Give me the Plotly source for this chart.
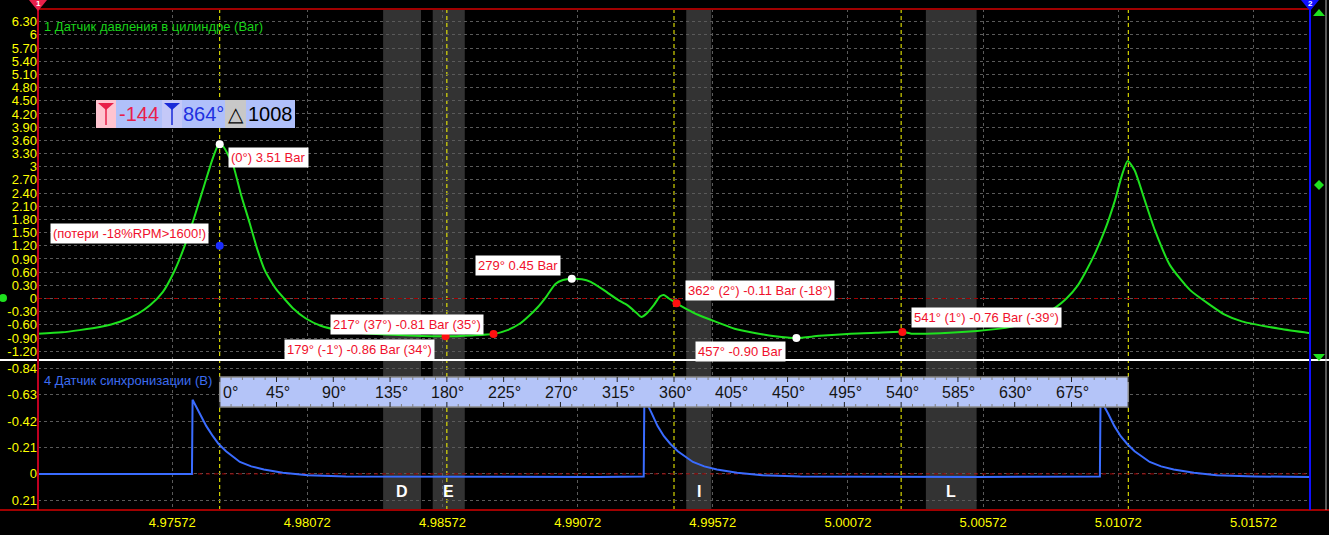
import numpy as np
import plotly.graph_objects as go

# ---------------- data ----------------
T_ZERO = 4.977478        # time (s) at crank angle 0 deg
SEC_PER_DEG = 4.6684e-5  # seconds per crank degree
CURSOR_LEFT_DEG = -144
CURSOR_RIGHT_DEG = 864
CURSOR_DELTA = 1008

pressure_deg = [-144, -125, -111, -95, -79, -65, -55, -45, -36, -28, -20, -12, -6, -2, 0,
                3, 7, 10.5, 17, 23.7, 30, 35.6, 40, 45, 51, 58, 68, 80, 96, 110, 124, 150,
                179, 200, 217, 228, 238, 245, 252, 259, 266, 272, 279, 287, 294, 305, 315,
                323, 330, 334, 338, 344, 349, 352, 356, 362, 370, 379, 395, 408, 425, 440,
                457, 475, 500, 520, 541, 548, 560, 600, 628, 645, 663, 671, 680, 687, 694,
                701.5, 709.5, 715, 719.5, 725, 733, 741, 753, 769, 785, 796, 810, 840, 864]
pressure_bar = [-0.80, -0.77, -0.72, -0.65, -0.53, -0.35, -0.15, 0.15, 0.62, 1.18, 1.86, 2.60,
                3.15, 3.45, 3.51, 3.45, 3.25, 3.05, 2.35, 1.72, 1.10, 0.65, 0.42, 0.20, 0.00,
                -0.22, -0.45, -0.62, -0.73, -0.78, -0.81, -0.84, -0.86, -0.84, -0.81, -0.72,
                -0.57, -0.40, -0.20, 0.05, 0.33, 0.42, 0.45, 0.44, 0.38, 0.18, -0.02, -0.15,
                -0.32, -0.42, -0.35, -0.15, 0.05, 0.08, 0.00, -0.11, -0.24, -0.37, -0.55,
                -0.69, -0.79, -0.86, -0.90, -0.85, -0.80, -0.78, -0.76, -0.80, -0.80, -0.74,
                -0.64, -0.50, -0.19, 0.00, 0.30, 0.65, 1.05, 1.56, 2.24, 2.81, 3.13, 2.92,
                2.24, 1.56, 0.76, 0.19, -0.15, -0.36, -0.52, -0.69, -0.79]

sync_deg = [-144, -100, -60, -22, -21.5, -16, -10.6, -5.4, -1, 5, 10.5, 16, 25, 35, 50, 70,
            100, 200, 300, 336, 336.5, 342, 347, 352, 357, 363, 369, 375, 384, 394, 410, 430,
            460, 600, 697.5, 698, 704, 709, 714, 719, 725, 731, 737, 746, 756, 772, 790, 820,
            864]
sync_volt = [0.0, 0.0, 0.0, 0.0, -0.59, -0.49, -0.38, -0.30, -0.24, -0.18, -0.14, -0.095,
             -0.06, -0.035, -0.01, 0.01, 0.02, 0.025, 0.025, 0.02, -0.60, -0.49, -0.38, -0.30,
             -0.24, -0.18, -0.14, -0.095, -0.06, -0.035, -0.01, 0.01, 0.02, 0.025, 0.02, -0.59,
             -0.48, -0.38, -0.30, -0.24, -0.18, -0.14, -0.095, -0.06, -0.035, -0.01, 0.01,
             0.02, 0.025]

white_pts_deg = [0, 279, 457]
white_pts_bar = [3.51, 0.45, -0.90]
red_pts_deg = [179, 217, 362, 541]
red_pts_bar = [-0.86, -0.81, -0.11, -0.76]
loss_pt_deg = [0]
loss_pt_bar = [1.20]

label_deg = [0, 279, 217, 179, 362, 457, 541, 0]
label_bar = [3.51, 0.45, -0.81, -0.86, -0.11, -0.90, -0.76, 1.20]
label_text = ["(0°) 3.51 Bar", "279° 0.45 Bar", "217° (37°) -0.81 Bar (35°)",
              "179° (-1°) -0.86 Bar (34°)", "362° (2°) -0.11 Bar (-18°)", "457° -0.90 Bar",
              "541° (1°) -0.76 Bar (-39°)", "(потери -18%RPM>1600!)"]

band_names = ["D", "E", "I", "L"]
band_start_deg = [129.5, 168.8, 369.7, 559.6]
band_end_deg = [159.5, 194.2, 389.5, 599.8]

cursor_lines_deg = [0, 180, 360, 540, 720]
scale_labels_deg = [0, 45, 90, 135, 180, 225, 270, 315, 360, 405, 450, 495, 540, 585, 630, 675]
scale_minor_deg = list(range(0, 721, 9))

time_ticks = [4.97572, 4.98072, 4.98572, 4.99072, 4.99572, 5.00072, 5.00572, 5.01072, 5.01572]
pressure_ticks = [-1.2, -0.9, -0.6, -0.3, 0, 0.3, 0.6, 0.9, 1.2, 1.5, 1.8, 2.1, 2.4, 2.7, 3.0,
                  3.3, 3.6, 3.9, 4.2, 4.5, 4.8, 5.1, 5.4, 5.7, 6.0, 6.3]
sync_ticks = [-0.84, -0.63, -0.42, -0.21, 0, 0.21]

# ---------------- geometry ----------------
W, H = 1329, 535
ML, MR, MT, MB = 38, 19, 9, 25
PW, PH = W - ML - MR, H - MT - MB
SPLIT_PX = 360
split = (H - MB - SPLIT_PX) / PH


def t_of(d):
    return T_ZERO + np.asarray(d, dtype=float) * SEC_PER_DEG


def fx(xp):
    return (xp - ML) / PW


def fy(yp):
    return (H - MB - yp) / PH


def fmt(v):
    if abs(v - round(v)) < 1e-9:
        return str(int(round(v)))
    return f"{v:.2f}"


def path_px(pts):
    return "M " + " L ".join(f"{fx(x):.5f},{fy(y):.5f}" for x, y in pts) + " Z"


FONT = "Arial, Liberation Sans, sans-serif"
GREEN = "#1ee11e"
BLUE = "#3a6cff"
RED_TXT = "#f0102c"

fig = go.Figure()

fig.add_trace(go.Scatter(x=t_of(pressure_deg), y=pressure_bar, mode="lines",
                         line=dict(color=GREEN, width=2, shape="spline", smoothing=0.6),
                         xaxis="x", yaxis="y", hoverinfo="skip"))
fig.add_trace(go.Scatter(x=t_of(sync_deg), y=sync_volt, mode="lines",
                         line=dict(color=BLUE, width=2),
                         xaxis="x", yaxis="y2", hoverinfo="skip"))
fig.add_trace(go.Scatter(x=t_of(white_pts_deg), y=white_pts_bar, mode="markers",
                         marker=dict(color="white", size=8), yaxis="y", hoverinfo="skip"))
fig.add_trace(go.Scatter(x=t_of(red_pts_deg), y=red_pts_bar, mode="markers",
                         marker=dict(color="#ff1010", size=8), yaxis="y", hoverinfo="skip"))
fig.add_trace(go.Scatter(x=t_of(loss_pt_deg), y=loss_pt_bar, mode="markers",
                         marker=dict(color="#1a2cff", size=8), yaxis="y", hoverinfo="skip"))

shapes = []
annotations = []


def note(**kw):
    kw.setdefault("showarrow", False)
    kw.setdefault("xanchor", "center")
    kw.setdefault("yanchor", "middle")
    annotations.append(kw)


# grey bands
for n, a, b in zip(band_names, band_start_deg, band_end_deg):
    shapes.append(dict(type="rect", xref="x", yref="paper", x0=t_of(a), x1=t_of(b),
                       y0=0, y1=1, fillcolor="#333333", line=dict(width=0), layer="below"))
    note(xref="x", yref="paper", x=float(t_of((a + b) / 2)), y=fy(491),
         text=f"<b>{n}</b>", font=dict(family=FONT, size=16, color="white"))

# yellow cursor lines
for d in cursor_lines_deg:
    shapes.append(dict(type="line", xref="x", yref="paper", x0=t_of(d), x1=t_of(d),
                       y0=0, y1=1, line=dict(color="#ffff00", width=1, dash="4px,3px"),
                       layer="below"))

# zero lines
x_lo, x_hi = float(t_of(CURSOR_LEFT_DEG)), float(t_of(CURSOR_RIGHT_DEG))
for yr in ["y", "y2"]:
    shapes.append(dict(type="line", xref="x", yref=yr, x0=x_lo, x1=x_hi, y0=0, y1=0,
                       line=dict(color="#a00000", width=1, dash="4px,4px"), layer="between"))

# frame lines
shapes += [
    dict(type="line", xref="paper", yref="paper", x0=fx(0), x1=fx(W), y0=split, y1=split,
         line=dict(color="white", width=2)),
    dict(type="line", xref="paper", yref="paper", x0=fx(0), x1=fx(W), y0=fy(510), y1=fy(510),
         line=dict(color="#a00000", width=2)),
    dict(type="line", xref="paper", yref="paper", x0=0, x1=1, y0=1, y1=1,
         line=dict(color="#a00000", width=2)),
    dict(type="line", xref="paper", yref="paper", x0=0, x1=0, y0=0, y1=1,
         line=dict(color="#c00020", width=2)),
    dict(type="line", xref="paper", yref="paper", x0=1, x1=1, y0=0, y1=fy(0),
         line=dict(color="#1010ff", width=2)),
    dict(type="line", xref="paper", yref="paper", x0=fx(1326), x1=fx(1326), y0=0, y1=fy(0),
         line=dict(color="#b0b0b0", width=1)),
]

# channel markers at top
shapes.append(dict(type="path", xref="paper", yref="paper",
                   path=path_px([(29, 0), (47, 0), (38, 11)]),
                   fillcolor="#e8204a", line=dict(width=0)))
shapes.append(dict(type="path", xref="paper", yref="paper",
                   path=path_px([(1301, 0), (1319, 0), (1310, 11)]),
                   fillcolor="#1010ff", line=dict(width=0)))
note(xref="paper", yref="paper", x=fx(38), y=fy(3.5), text="<b>1</b>",
     font=dict(family=FONT, size=8, color="white"))
note(xref="paper", yref="paper", x=fx(1310), y=fy(3.5), text="<b>2</b>",
     font=dict(family=FONT, size=8, color="white"))
# right strip green markers
shapes.append(dict(type="path", xref="paper", yref="paper",
                   path=path_px([(1313, 16), (1325, 16), (1319, 9)]),
                   fillcolor=GREEN, line=dict(width=0)))
shapes.append(dict(type="path", xref="paper", yref="paper",
                   path=path_px([(1319, 180), (1324, 185), (1319, 190), (1314, 185)]),
                   fillcolor=GREEN, line=dict(width=0)))
shapes.append(dict(type="path", xref="paper", yref="paper",
                   path=path_px([(1313, 354), (1325, 354), (1319, 361)]),
                   fillcolor=GREEN, line=dict(width=0)))
shapes.append(dict(type="circle", xref="paper", yref="paper",
                   x0=fx(-1), x1=fx(7), y0=fy(302), y1=fy(294),
                   fillcolor=GREEN, line=dict(width=0)))

# crank-angle scale bar
bar_top, bar_bot = 377, 407
shapes.append(dict(type="rect", xref="x", yref="paper", x0=t_of(0), x1=t_of(720),
                   y0=fy(bar_bot), y1=fy(bar_top), fillcolor="#b4c4f8",
                   line=dict(color="#8a8a8a", width=1.5), layer="above"))
for d in scale_minor_deg:
    major = d % 45 == 0
    ln = 5 if major else 3
    col = "#202020" if major else "#808080"
    for y0, y1 in [(bar_top, bar_top + ln), (bar_bot - ln, bar_bot)]:
        shapes.append(dict(type="line", xref="x", yref="paper", x0=t_of(d), x1=t_of(d),
                           y0=fy(y0), y1=fy(y1), line=dict(color=col, width=1),
                           layer="above"))
for d in scale_labels_deg:
    note(xref="x", yref="paper", x=float(t_of(d)), y=fy(392),
         xanchor="left" if d == 0 else "center", xshift=1, text=f"{d}°",
         font=dict(family=FONT, size=16, color="#151515"))

# data labels
offsets = [("left", 8, -13), ("right", -11, 13), ("right", -10, 10), ("right", -11, -13),
           ("left", 8, 13), ("right", -10, -13), ("left", 9, 14), ("right", -11, 12)]
for d, v, txt, (anc, dx, dy) in zip(label_deg, label_bar, label_text, offsets):
    note(xref="x", yref="y", x=float(t_of(d)), y=v, text=txt, xanchor=anc,
         xshift=dx, yshift=dy, bgcolor="white", borderpad=2,
         font=dict(family=FONT, size=13, color=RED_TXT))

# panel titles
note(xref="paper", yref="paper", x=fx(42), y=fy(27), xanchor="left",
     text="1 Датчик давления в цилиндре (Bar)", font=dict(family=FONT, size=13, color="#19d219"))
note(xref="paper", yref="paper", x=fx(42), y=fy(380), xanchor="left",
     text="4 Датчик синхронизации (В)", font=dict(family=FONT, size=13, color="#3c6cf0"))

# cursor readout
ry0, ry1 = 100, 128
boxes = [(96, 116, "#ffc4d0"), (116, 162, "#b0c0fa"), (162, 182, "#c4c8f8"),
         (182, 225, "#b0c0fa"), (225, 246, "#c8c8c8"), (246, 295, "#b0c0fa")]
for x0, x1, c in boxes:
    shapes.append(dict(type="rect", xref="paper", yref="paper", x0=fx(x0), x1=fx(x1),
                       y0=fy(ry1), y1=fy(ry0), fillcolor=c, line=dict(width=0)))
for cx, col in [(106, "#e8204a"), (172, "#1a2ad8")]:
    shapes.append(dict(type="path", xref="paper", yref="paper",
                       path=path_px([(cx - 8, 103), (cx + 8, 103), (cx, 110)]),
                       fillcolor=col, line=dict(width=0)))
    shapes.append(dict(type="line", xref="paper", yref="paper", x0=fx(cx), x1=fx(cx),
                       y0=fy(108), y1=fy(125), line=dict(color=col, width=1.5)))
readout = [(139, f"{CURSOR_LEFT_DEG}", "#e8204a"), (203.5, f"{CURSOR_RIGHT_DEG}°", "#2030e0"),
           (235.5, "△", "#000000"), (270.5, f"{CURSOR_DELTA}", "#000000")]
for cx, txt, col in readout:
    note(xref="paper", yref="paper", x=fx(cx), y=fy(114), text=txt,
         font=dict(family=FONT, size=20, color=col))

fig.update_layout(
    width=W, height=H, margin=dict(l=ML, r=MR, t=MT, b=MB),
    paper_bgcolor="black", plot_bgcolor="black", showlegend=False,
    shapes=shapes, annotations=annotations,
    xaxis=dict(domain=[0, 1], anchor="y2", range=[x_lo, x_hi], tickvals=time_ticks,
               ticktext=[f"{v:.5f}" for v in time_ticks], showgrid=True,
               gridcolor="#5a5a5a", griddash="dot", gridwidth=1, zeroline=False,
               showline=False, ticks="", automargin=False, ticklabelstandoff=3,
               tickfont=dict(family=FONT, size=13, color="#ffff00")),
    yaxis=dict(domain=[split, 1], anchor="x", range=[-1.40, 6.59], tickvals=pressure_ticks,
               ticktext=[fmt(v) for v in pressure_ticks], showgrid=True, automargin=False,
               gridcolor="#5a5a5a", griddash="dot", gridwidth=1, zeroline=False,
               showline=False, ticks="", tickfont=dict(family=FONT, size=13, color="#ffff00")),
    yaxis2=dict(domain=[0, split], anchor="x", range=[0.287, -0.906], tickvals=sync_ticks,
                ticktext=[fmt(v) for v in sync_ticks], showgrid=True, automargin=False,
                gridcolor="#5a5a5a", griddash="dot", gridwidth=1, zeroline=False,
                showline=False, ticks="", tickfont=dict(family=FONT, size=13, color="#ffff00")),
)

fig.write_html("out.html")
